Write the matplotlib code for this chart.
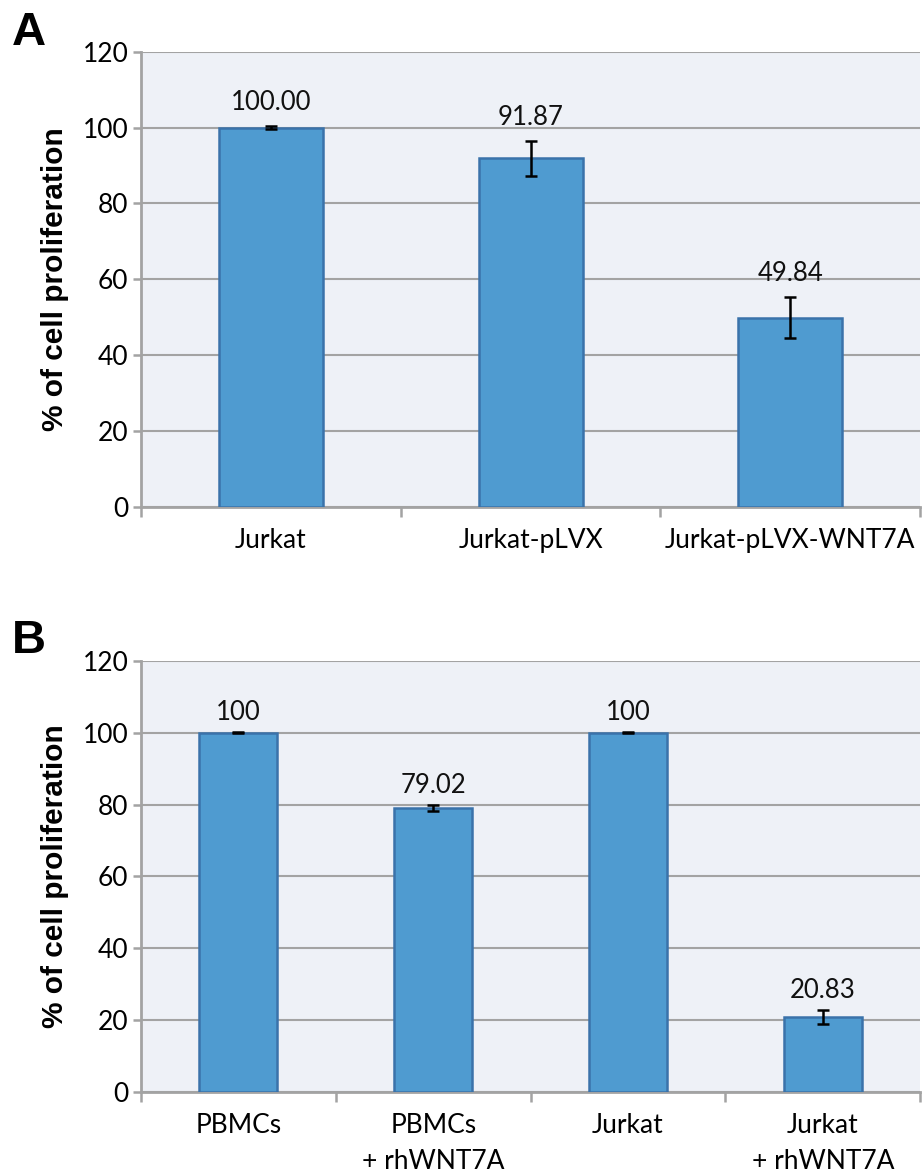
import matplotlib.pyplot as plt
import numpy as np

# panel A data
cats_a = ["Jurkat", "Jurkat-pLVX", "Jurkat-pLVX-WNT7A"]
vals_a = [100.00, 91.87, 49.84]
errs_a = [0.3, 4.5, 5.4]
labels_a = ["100.00", "91.87", "49.84"]

# panel B data
cats_b = ["PBMCs", "PBMCs\n+ rhWNT7A", "Jurkat", "Jurkat\n+ rhWNT7A"]
vals_b = [100, 79.02, 100, 20.83]
errs_b = [0.2, 0.8, 0.2, 2.0]
labels_b = ["100", "79.02", "100", "20.83"]

yticks = [0, 20, 40, 60, 80, 100, 120]

bar_color = "#4f9bd0"
edge_color = "#3a72aa"
grey = "#a3a3a3"
bg = "#eef1f7"

plt.rcParams["font.family"] = ["Lato", "DejaVu Sans"]

fig = plt.figure(figsize=(9.22, 11.74), dpi=100)
ax_a = fig.add_axes([0.153, 0.568, 0.845, 0.388])
ax_b = fig.add_axes([0.153, 0.070, 0.845, 0.367])


def draw_panel(ax, cats, vals, errs, labels, offset):
    x = np.arange(len(cats))
    ax.set_facecolor(bg)
    ax.bar(x, vals, width=0.40, color=bar_color, edgecolor=edge_color,
           linewidth=1.8, zorder=3)
    ax.errorbar(x, vals, yerr=errs, fmt="none", ecolor="black",
                elinewidth=1.8, capsize=4.5, capthick=1.8, zorder=4)
    for xi, v, e, t in zip(x, vals, errs, labels):
        ax.annotate(t, (xi, v + e), xytext=(0, offset),
                    textcoords="offset points", ha="center", va="bottom",
                    fontsize=18.5, color="#111111")

    ax.set_xlim(-0.5, len(cats) - 0.5)
    ax.set_ylim(0, 120)
    ax.set_yticks(yticks)
    ax.yaxis.grid(True, color=grey, linewidth=1.5, zorder=0)
    ax.set_axisbelow(True)

    ax.set_xticks(x)
    ax.set_xticklabels(cats, fontsize=19, linespacing=1.55)
    ax.set_xticks(np.arange(len(cats) + 1) - 0.5, minor=True)
    ax.tick_params(axis="x", which="major", length=0, pad=15)
    ax.tick_params(axis="x", which="minor", length=7, width=1.8, color=grey)
    ax.tick_params(axis="y", length=6, width=1.8, color=grey, labelsize=19,
                   pad=3)

    ax.spines["right"].set_visible(False)
    ax.spines["top"].set_visible(False)
    for s in ["left", "bottom"]:
        ax.spines[s].set_color(grey)
        ax.spines[s].set_linewidth(2)

    ax.set_ylabel("% of cell proliferation", fontsize=21.5, fontweight="bold",
                  family=["Liberation Sans", "DejaVu Sans"], labelpad=10)


draw_panel(ax_a, cats_a, vals_a, errs_a, labels_a, 8)
draw_panel(ax_b, cats_b, vals_b, errs_b, labels_b, 5)

fig.text(0.013, 0.962, "A", fontsize=34, fontweight="bold",
         family=["Liberation Sans", "DejaVu Sans"])
fig.text(0.013, 0.444, "B", fontsize=34, fontweight="bold",
         family=["Liberation Sans", "DejaVu Sans"])

fig.savefig("out.png", dpi=100, facecolor="white")
